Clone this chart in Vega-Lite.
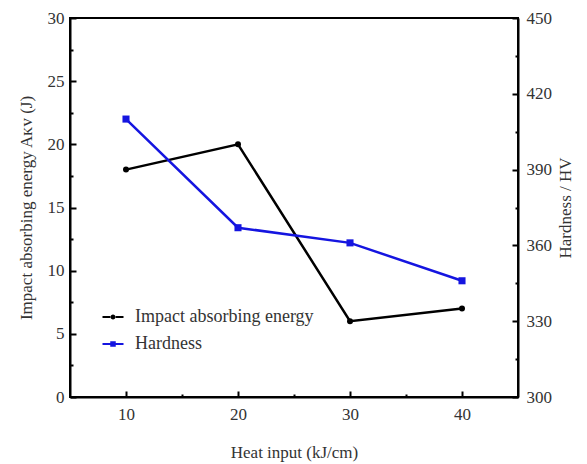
{
  "$schema": "https://vega.github.io/schema/vega-lite/v6.json",
  "width": 448,
  "height": 379,
  "autosize": {"type": "none"},
  "padding": {"left": 70, "top": 18, "right": 69, "bottom": 67},
  "background": "white",
  "config": {
    "view": {"stroke": "black", "strokeWidth": 2},
    "font": "Liberation Serif, DejaVu Serif, serif",
    "axis": {
      "grid": false,
      "domainColor": "black",
      "domainWidth": 2,
      "tickColor": "black",
      "tickWidth": 2,
      "labelFont": "Liberation Serif, DejaVu Serif, serif",
      "labelFontSize": 17,
      "labelColor": "#333333",
      "titleFont": "Liberation Serif, DejaVu Serif, serif",
      "titleFontSize": 17,
      "titleFontWeight": "normal",
      "titleColor": "#333333"
    }
  },
  "data": {
    "values": [
      {"heat": 10, "impact": 18, "hardness": 410},
      {"heat": 20, "impact": 20, "hardness": 367},
      {"heat": 30, "impact": 6, "hardness": 361},
      {"heat": 40, "impact": 7, "hardness": 346}
    ]
  },
  "encoding": {
    "x": {
      "field": "heat",
      "type": "quantitative",
      "scale": {"domain": [5, 45], "nice": false, "zero": false},
      "axis": {
        "title": "Heat input (kJ/cm)",
        "values": [10, 15, 20, 25, 30, 35, 40],
        "labelExpr": "datum.value % 10 == 0 ? datum.label : ''",
        "tickSize": {"condition": {"test": "datum.value % 10 != 0", "value": -3}, "value": -6},
        "labelPadding": 15,
        "titlePadding": 22
      }
    }
  },
  "layer": [
    {
      "encoding": {
        "y": {
          "field": "impact",
          "type": "quantitative",
          "scale": {"domain": [0, 30], "nice": false},
          "axis": {
            "title": "Impact absorbing energy Aᴋᴠ (J)",
            "orient": "left",
            "values": [0, 2.5, 5, 7.5, 10, 12.5, 15, 17.5, 20, 22.5, 25, 27.5, 30],
            "labelExpr": "datum.value % 5 == 0 ? datum.label : ''",
            "tickSize": {"condition": {"test": "datum.value % 5 != 0", "value": -3}, "value": -6},
            "labelPadding": 12,
            "titlePadding": 12
          }
        },
        "color": {
          "datum": "Impact absorbing energy",
          "type": "nominal",
          "scale": {"domain": ["Impact absorbing energy", "Hardness"], "range": ["#000000", "#1515e0"]},
          "legend": {
            "title": null,
            "orient": "none",
            "legendX": 34,
            "legendY": 290,
            "padding": 0,
            "symbolSize": 100,
            "symbolType": "M-2.1,0H-0.55M0.55,0H2.1M-0.3,0A0.3,0.3,0,1,1,0.3,0A0.3,0.3,0,1,1,-0.3,0Z",
            "symbolStrokeWidth": 2,
            "labelOffset": 13,
            "labelFont": "Liberation Serif, DejaVu Serif, serif",
            "labelFontSize": 18,
            "labelColor": "#333333",
            "rowPadding": 9,
            "labelLimit": 300,
            "encode": {
              "symbols": {
                "update": {
                  "shape": [
                    {"test": "datum.value === 'Hardness'", "value": "M-2.1,0H-0.55M0.55,0H2.1M-0.35,-0.35H0.35V0.35H-0.35Z"},
                    {"value": "M-2.1,0H-0.55M0.55,0H2.1M-0.3,0A0.3,0.3,0,1,1,0.3,0A0.3,0.3,0,1,1,-0.3,0Z"}
                  ],
                  "fill": [
                    {"test": "datum.value === 'Hardness'", "value": "#1515e0"},
                    {"value": "#000000"}
                  ],
                  "stroke": [
                    {"test": "datum.value === 'Hardness'", "value": "#1515e0"},
                    {"value": "#000000"}
                  ],
                  "strokeWidth": {"value": 2},
                  "opacity": {"value": 1}
                }
              }
            }
          }
        }
      },
      "layer": [
        {"mark": {"type": "line", "strokeWidth": 2.5}},
        {"mark": {"type": "point", "shape": "circle", "filled": true, "size": 36, "opacity": 1}}
      ]
    },
    {
      "encoding": {
        "y": {
          "field": "hardness",
          "type": "quantitative",
          "scale": {"domain": [300, 450], "nice": false, "zero": false},
          "axis": {
            "title": "Hardness / HV",
            "orient": "right",
            "values": [300, 315, 330, 345, 360, 375, 390, 405, 420, 435, 450],
            "labelExpr": "datum.value % 30 == 0 ? datum.label : ''",
            "tickSize": {"condition": {"test": "datum.value % 30 != 0", "value": -3}, "value": -6},
            "labelPadding": 14,
            "titleAngle": 270,
            "titlePadding": 23
          }
        },
        "color": {"datum": "Hardness", "type": "nominal"}
      },
      "layer": [
        {"mark": {"type": "line", "strokeWidth": 2.5}},
        {"mark": {"type": "point", "shape": "square", "filled": true, "size": 50, "opacity": 1}}
      ]
    }
  ],
  "resolve": {"scale": {"y": "independent"}}
}
